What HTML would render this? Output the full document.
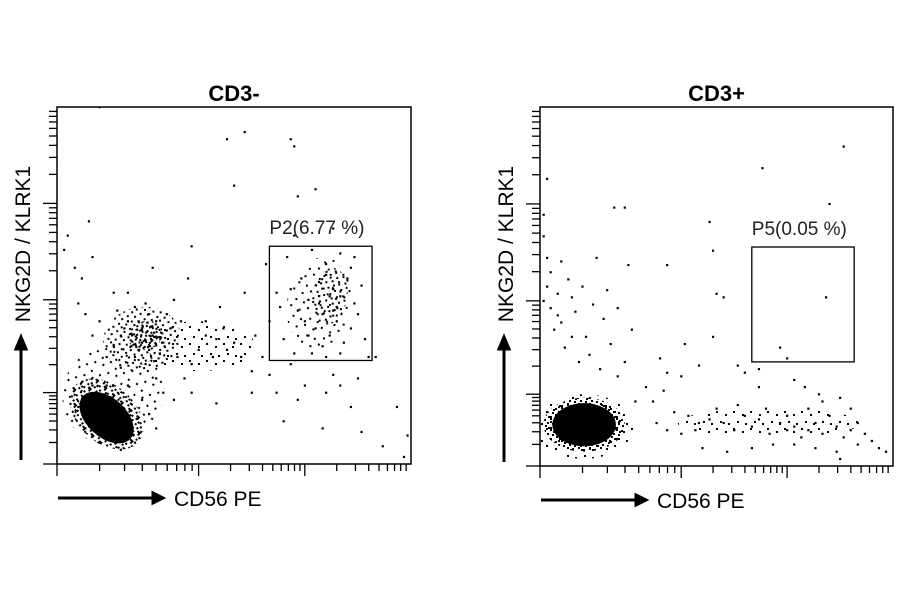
<!DOCTYPE html>
<html><head><meta charset="utf-8"><style>
body{margin:0;background:#fff;}
svg{display:block;font-family:"Liberation Sans","DejaVu Sans",sans-serif;}
</style></head><body>
<svg id="c" width="900" height="594" viewBox="0 0 900 594">
<defs>
<pattern id="p1" width="11" height="11" patternUnits="userSpaceOnUse">
<rect x="0" y="0" width="2" height="2"/><rect x="5" y="1" width="2" height="2"/><rect x="8" y="4" width="2" height="2"/><rect x="2" y="5" width="2" height="2"/><rect x="6" y="7" width="2" height="2"/><rect x="0" y="9" width="2" height="2"/><rect x="9" y="9" width="2" height="2"/><rect x="3" y="2" width="2" height="2"/></pattern>
<pattern id="p2" width="13" height="13" patternUnits="userSpaceOnUse">
<rect x="1" y="1" width="2" height="2"/><rect x="8" y="3" width="2" height="2"/><rect x="4" y="7" width="2" height="2"/><rect x="11" y="9" width="2" height="2"/><rect x="6" y="11" width="2" height="2"/></pattern>
<pattern id="p3" width="17" height="17" patternUnits="userSpaceOnUse">
<rect x="2" y="3" width="2" height="2"/><rect x="11" y="6" width="2" height="2"/><rect x="6" y="13" width="2" height="2"/><rect x="14" y="15" width="2" height="2"/></pattern>
</defs>
</svg>
<script>
// ---- data (x,y in 0-100 channel units) ----
const panelTitles=["CD3-","CD3+"];
const gateLabels=["P2(6.77 %)","P5(0.05 %)"];
const gateLeft=[60,29,89,61];
const gateRight=[60,29,89,61];
// dense cores: [cx,cy,rx,ry,rotDeg]
const coresLeft=[[14,13,9,5.5,42]];
const coresRight=[[12.5,11.5,9,6,0]];
// density regions: [cx,cy,rx,ry,rot,level(1 dense..3 sparse)]
const halosLeft=[[16,20,14,15,40,3],[14,14,12,8,42,1],[24,35,11,9,-10,2],[25,36,5,4,-20,1],[74,45,9,13,10,3],[77,47,5,8,10,2],[40,33,16,7,0,3]];
const halosRight=[[12.5,11,14,9,0,3],[12.5,11.5,11.5,7.5,0,1],[65,12,26,4,0,3]];
const ptsLeft=[[12,100],[48,91],[53,93],[67,89],[66,91],[50,78],[68,75],[73,77],[78,66],[84,58],[67,64],[38,61],[59,56],[65,58],[72,60],[80,59],[76,56],[37,52],[5,55],[2,60],[7,52],[10,58],[3,64],[9,68],[16,48],[20,48],[27,55],[33,46],[46,44],[53,48],[60,40],[63,44],[66,49],[69,52],[71,46],[74,51],[76,53],[78,49],[80,47],[82,52],[84,45],[86,50],[70,40],[73,38],[75,42],[77,36],[79,40],[81,34],[83,38],[85,42],[87,35],[64,35],[67,31],[72,31],[76,30],[80,31],[62,48],[68,43],[79,44],[83,55],[74,45],[77,47],[78,43],[75,33],[71,36],[88,30],[90,30],[85,24],[80,22],[76,20],[70,22],[66,28],[58,30],[55,26],[52,30],[48,32],[45,35],[42,36],[40,32],[38,28],[36,24],[34,30],[32,38],[30,34],[28,40],[26,42],[24,38],[22,44],[20,40],[18,36],[16,33],[14,30],[12,40],[10,36],[8,42],[6,45],[30,20],[33,18],[28,24],[25,28],[38,20],[44,30],[50,34],[56,36],[42,40],[47,38],[35,40],[26,32],[22,30],[18,27],[45,17],[64,12],[75,10],[86,9],[96,16],[99,8],[98,2],[92,5],[55,20],[60,25],[62,20],[68,18],[78,25],[83,16],[19,38],[21,33],[24,34],[27,36],[29,31],[17,43],[23,40],[25,45],[31,42],[14,22],[20,22],[24,18],[26,14],[28,10],[22,6],[18,4],[12,6],[8,10],[6,16],[10,22]];
const ptsRight=[[86,89],[63,83],[82,73],[21,72],[24,72],[2,80],[1,70],[1,64],[2,58],[2,50],[1,46],[3,54],[5,48],[8,52],[6,57],[16,58],[25,56],[36,56],[48,68],[49,60],[50,48],[52,47],[81,47],[68,33],[49,36],[41,34],[34,30],[45,28],[56,28],[58,26],[62,27],[70,30],[72,24],[9,47],[5,42],[13,36],[7,33],[18,41],[20,34],[11,29],[26,38],[24,29],[4,38],[14,31],[17,27],[22,25],[30,22],[27,18],[32,18],[35,21],[38,15],[42,14],[45,12],[48,13],[52,12],[55,10],[58,14],[60,11],[62,13],[65,9],[68,12],[70,10],[72,11],[74,8],[76,10],[78,12],[80,9],[82,14],[84,11],[86,8],[88,10],[90,12],[92,9],[94,7],[96,5],[98,4],[85,2],[44,10],[50,16],[56,17],[64,16],[70,14],[76,16],[88,16],[80,18],[60,5],[66,6],[72,6],[78,5],[84,4],[90,6],[36,10],[40,9],[33,12],[46,5],[53,4],[75,22],[79,20],[85,19],[36,26],[40,25],[62,22],[3,44],[6,40],[10,43],[12,50],[15,45],[19,49],[22,44],[9,36]];
const xDecadeFrac=[0,0.4,0.7,1.0];
const yDecadeFrac=[0,0.2,0.46,0.73,1.0];

const svg=document.getElementById('c');
const NS='http://www.w3.org/2000/svg';
function mk(t,a,p){const e=document.createElementNS(NS,t);for(const k in a)e.setAttribute(k,a[k]);(p||svg).appendChild(e);return e;}

function panel(ix,L,T,R,B,pts,cores,halos,gate){
  const g=mk('g',{});
  
  
  const xs=v=>L+v/100*(R-L), ys=v=>B-v/100*(B-T);
  const tt=mk('text',{x:(L+R)/2,y:101,'text-anchor':'middle','font-size':22,'font-weight':'bold'},g);
  tt.textContent=panelTitles[ix];
  
  
  const clip=mk('clipPath',{id:'clip'+ix},g);
  mk('rect',{x:L,y:T,width:R-L,height:B-T},clip);
  const inner=mk('g',{'clip-path':`url(#clip${ix})`},g);
  halos.forEach(h=>{const e=mk('ellipse',{cx:xs(h[0]),cy:ys(h[1]),rx:h[2]/100*(R-L),ry:h[3]/100*(B-T),transform:`rotate(${h[4]} ${xs(h[0])} ${ys(h[1])})`,fill:'url(#p'+h[5]+')'},inner);
    
    });
  cores.forEach(c=>{const e=mk('ellipse',{cx:xs(c[0]),cy:ys(c[1]),rx:c[2]/100*(R-L),ry:c[3]/100*(B-T),transform:`rotate(${c[4]} ${xs(c[0])} ${ys(c[1])})`,fill:'#000'},inner);
    
    });
  pts.forEach(p=>{const e=mk('rect',{x:xs(p[0])-1,y:ys(p[1])-1,width:2.2,height:2.2,fill:'#000'},inner);
    
    });
  const f=mk('rect',{x:L,y:T,width:R-L,height:B-T,fill:'none',stroke:'#000','stroke-width':1.5},g);
  
  
  for(let d=0;d<xDecadeFrac.length-1;d++){const a=L+xDecadeFrac[d]*(R-L),b=L+xDecadeFrac[d+1]*(R-L);
    for(let k=1;k<10;k++){const x=a+Math.log10(k)*(b-a);const t=mk('line',{x1:x,x2:x,y1:B,y2:B+(k==1?12:7),stroke:'#000','stroke-width':1.3},g);
      
      }}
  for(let d=0;d<yDecadeFrac.length-1;d++){const a=B-yDecadeFrac[d]*(B-T),b=B-yDecadeFrac[d+1]*(B-T);
    for(let k=1;k<10;k++){const y=a+Math.log10(k)*(b-a);const t=mk('line',{x1:L-(k==1?14:8),x2:L,y1:y,y2:y,stroke:'#000','stroke-width':1.3},g);
      
      }}
  const gr=mk('rect',{x:xs(gate[0]),y:ys(gate[3]),width:xs(gate[2])-xs(gate[0]),height:ys(gate[1])-ys(gate[3]),fill:'none',stroke:'#000','stroke-width':1.3},g);
  
  
  const gl=mk('text',{x:xs(gate[0]),y:ys(gate[3])-12,'font-size':19,fill:'#222'},g);
  gl.textContent=gateLabels[ix];
  
  
  const yl=mk('text',{x:0,y:0,'font-size':21,'text-anchor':'middle',transform:`translate(${L-27},${T+137}) rotate(-90)`},g);
  yl.textContent='NKG2D / KLRK1';
  
  
  const ya=mk('path',{d:`M${L-36} ${B-4} V${T+240} M${L-41} ${T+242} L${L-36} ${T+230} L${L-31} ${T+242} Z`,stroke:'#000','stroke-width':3,fill:'#000'},g);
  
  
  const xa=mk('path',{d:`M${L+1} ${B+34} H${L+98} M${L+96} ${B+29} L${L+106} ${B+34} L${L+96} ${B+39} Z`,stroke:'#000','stroke-width':3,fill:'#000'},g);
  
  
  const xl=mk('text',{x:L+117,y:B+42,'font-size':21},g);
  xl.textContent='CD56 PE';
  
  
}
panel(0,57,107,411,464,ptsLeft,coresLeft,halosLeft,gateLeft);
panel(1,540,107,893,466,ptsRight,coresRight,halosRight,gateRight);
</script>
</body></html>
